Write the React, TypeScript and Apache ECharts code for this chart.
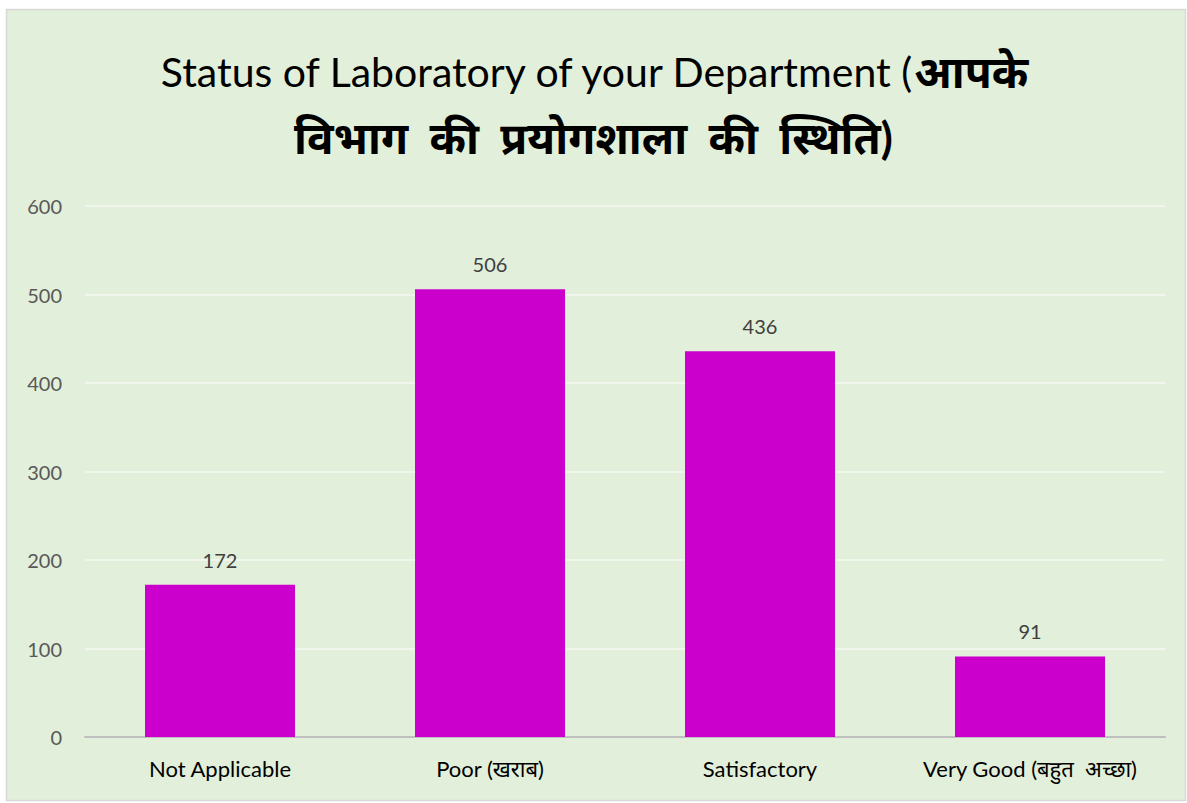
import React, { useEffect, useRef } from "react";
import * as echarts from "echarts";

const categories = ["Not Applicable", "Poor (खराब)", "Satisfactory", "Very Good (बहुत  अच्छा)"];
const values = [172, 506, 436, 91];
const yTicks = [0, 100, 200, 300, 400, 500, 600];

const FONT = "Lato, 'Noto Sans Devanagari', 'Noto Sans', sans-serif";

export default function App() {
  const ref = useRef<HTMLDivElement>(null);
  useEffect(() => {
    if (!ref.current) return;
    const chart = echarts.init(ref.current, null, { renderer: "svg" });
    chart.setOption({
      animation: false,
      backgroundColor: "#ffffff",
      textStyle: { fontFamily: FONT },
      graphic: [
        {
          type: "rect",
          z: -10,
          silent: true,
          shape: { x: 6.5, y: 9.5, width: 1179, height: 791 },
          style: { fill: "#E2EFDA", stroke: "#D9D9D9", lineWidth: 1.5 },
        },
      ],
      title: {
        left: "center",
        top: 33,
        text: "{a|Status of Laboratory of your Department (}{b|आपके}\n{b|विभाग  की  प्रयोगशाला  की  स्थिति)}",
        textStyle: {
          fontWeight: "normal",
          rich: {
            a: { fontFamily: FONT, fontSize: 41, fontWeight: "normal", color: "#000000", lineHeight: 66 },
            b: { fontFamily: FONT, fontSize: 44, fontWeight: "bold", color: "#000000", lineHeight: 66 },
          },
        },
      },
      grid: { left: 85, right: 22, top: 206, bottom: 66, containLabel: false },
      xAxis: {
        type: "category",
        data: categories,
        axisLine: { lineStyle: { color: "#BFBFBF", width: 2 } },
        axisTick: { show: false },
        axisLabel: { color: "#000000", fontSize: 22, margin: 20, fontFamily: FONT, interval: 0 },
      },
      yAxis: {
        type: "value",
        min: yTicks[0],
        max: yTicks[yTicks.length - 1],
        interval: 100,
        axisLine: { show: false },
        axisTick: { show: false },
        axisLabel: { color: "#595959", fontSize: 20, margin: 23, fontFamily: FONT },
        splitLine: { lineStyle: { color: "#F4F8F1", width: 1.5 } },
      },
      series: [
        {
          type: "bar",
          data: values,
          barWidth: 150,
          itemStyle: { color: "#CC00CC" },
          label: {
            show: true,
            position: "top",
            distance: 15,
            color: "#404040",
            fontSize: 20,
            fontFamily: FONT,
          },
        },
      ],
    });
    return () => chart.dispose();
  }, []);
  return (
    <div
      ref={ref}
      style={{ position: "fixed", left: 0, top: 0, width: 1187, height: 803 }}
    />
  );
}
